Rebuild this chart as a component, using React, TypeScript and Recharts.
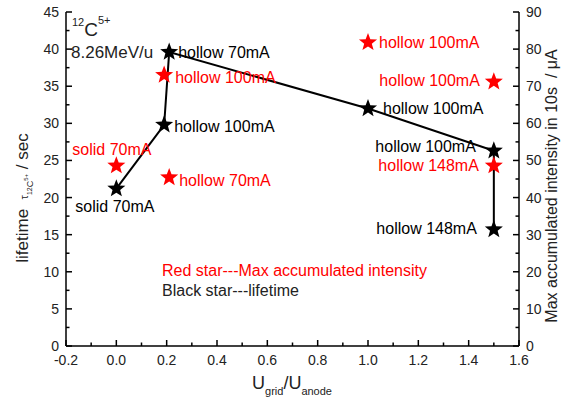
import React from "react";
import {
  ComposedChart,
  Scatter,
  XAxis,
  YAxis,
  Customized,
} from "recharts";

// ---------------------------------------------------------------------------
// Data
// ---------------------------------------------------------------------------

const gridRatio = [0, 0.19, 0.21, 1.0, 1.5, 1.5];
const lifetime = [21.2, 29.8, 39.6, 32.0, 26.3, 15.7];
const lifetimeLabels = [
  "solid 70mA",
  "hollow 100mA",
  "hollow 70mA",
  "hollow 100mA",
  "hollow 100mA",
  "hollow 148mA",
];

const intensityRatio = [0, 0.19, 0.21, 1.0, 1.5, 1.5];
const intensity = [48.6, 73.0, 45.4, 81.8, 71.2, 48.6];
const intensityLabels = [
  "solid 70mA",
  "hollow 100mA",
  "hollow 70mA",
  "hollow 100mA",
  "hollow 100mA",
  "hollow 148mA",
];

const xTicks = [
  -0.2, -0.1, 0, 0.1, 0.2, 0.3, 0.4, 0.5, 0.6, 0.7, 0.8, 0.9, 1.0, 1.1, 1.2,
  1.3, 1.4, 1.5, 1.6,
];
const leftTicks = [
  0, 2.5, 5, 7.5, 10, 12.5, 15, 17.5, 20, 22.5, 25, 27.5, 30, 32.5, 35, 37.5,
  40, 42.5, 45,
];
const rightTicks = [
  0, 5, 10, 15, 20, 25, 30, 35, 40, 45, 50, 55, 60, 65, 70, 75, 80, 85, 90,
];

// label placement relative to each star (pixels)
const lifetimeLabelPos = [
  { dx: -41, dy: 18, anchor: "start" },
  { dx: 10, dy: 1, anchor: "start" },
  { dx: 9, dy: 0, anchor: "start" },
  { dx: 15, dy: 0, anchor: "start" },
  { dx: -18, dy: -5, anchor: "end" },
  { dx: -17, dy: -1, anchor: "end" },
];
const intensityLabelPos = [
  { dx: -44, dy: -16, anchor: "start" },
  { dx: 11, dy: 2, anchor: "start" },
  { dx: 10, dy: 3, anchor: "start" },
  { dx: 11, dy: 0, anchor: "start" },
  { dx: -14, dy: -2, anchor: "end" },
  { dx: -15, dy: 0, anchor: "end" },
];

const lifetimeData = gridRatio.map((x, i) => ({
  x,
  y: lifetime[i],
  label: lifetimeLabels[i],
  i,
}));
const intensityData = intensityRatio.map((x, i) => ({
  x,
  y: intensity[i],
  label: intensityLabels[i],
  i,
}));

// ---------------------------------------------------------------------------
// Styling
// ---------------------------------------------------------------------------

const FONT = '"Liberation Sans", Arial, sans-serif';
const RED = "#ff0000";
const BLACK = "#000000";
const AXIS_W = 1.5;
const MAJOR = 6;
const MINOR = 3.5;

function starPoints(cx: number, cy: number, R: number, r: number) {
  const pts: string[] = [];
  for (let k = 0; k < 10; k++) {
    const rad = k % 2 === 0 ? R : r;
    const a = -Math.PI / 2 + (k * Math.PI) / 5;
    pts.push(`${cx + rad * Math.cos(a)},${cy + rad * Math.sin(a)}`);
  }
  return pts.join(" ");
}

function makeStar(color: string, pos: typeof lifetimeLabelPos) {
  return function StarShape(props: any) {
    const { cx, cy, payload } = props;
    if (cx == null || cy == null) return null;
    const p = pos[payload.i];
    return (
      <g>
        <polygon points={starPoints(cx, cy, 9.5, 4)} fill={color} />
        <text
          x={cx + p.dx}
          y={cy + p.dy}
          dy="0.36em"
          textAnchor={p.anchor as any}
          fill={color}
          fontSize={16}
          fontFamily={FONT}
        >
          {payload.label}
        </text>
      </g>
    );
  };
}

const BlackStar = makeStar(BLACK, lifetimeLabelPos);
const RedStar = makeStar(RED, intensityLabelPos);

// ---------------------------------------------------------------------------
// Inward ticks
// ---------------------------------------------------------------------------

function BottomTick(props: any) {
  const { x, y, payload } = props;
  const v = payload.value as number;
  const major = Math.abs(Math.round(v * 10)) % 2 === 0;
  const axisY = y - 8;
  return (
    <g>
      <line x1={x} x2={x} y1={axisY} y2={axisY - (major ? MAJOR : MINOR)} stroke={BLACK} strokeWidth={AXIS_W} />
      {major && (
        <text x={x} y={y} dy="0.8em" textAnchor="middle" fontSize={14} fontFamily={FONT} fill="#222">
          {v.toFixed(1)}
        </text>
      )}
    </g>
  );
}

function TopTick(props: any) {
  const { x, y, payload } = props;
  const v = payload.value as number;
  const major = Math.abs(Math.round(v * 10)) % 2 === 0;
  return (
    <line x1={x} x2={x} y1={y} y2={y + (major ? MAJOR : MINOR)} stroke={BLACK} strokeWidth={AXIS_W} />
  );
}

function LeftTick(props: any) {
  const { x, y, payload } = props;
  const v = payload.value as number;
  const major = v % 5 === 0;
  const axisX = x + 7;
  return (
    <g>
      <line x1={axisX} x2={axisX + (major ? MAJOR : MINOR)} y1={y} y2={y} stroke={BLACK} strokeWidth={AXIS_W} />
      {major && (
        <text x={x} y={y} dy="0.36em" textAnchor="end" fontSize={14} fontFamily={FONT} fill="#222">
          {v}
        </text>
      )}
    </g>
  );
}

function RightTick(props: any) {
  const { x, y, payload } = props;
  const v = payload.value as number;
  const major = v % 10 === 0;
  const axisX = x - 7;
  return (
    <g>
      <line x1={axisX} x2={axisX - (major ? MAJOR : MINOR)} y1={y} y2={y} stroke={BLACK} strokeWidth={AXIS_W} />
      {major && (
        <text x={x} y={y} dy="0.36em" textAnchor="start" fontSize={14} fontFamily={FONT} fill="#222">
          {v}
        </text>
      )}
    </g>
  );
}

// ---------------------------------------------------------------------------
// Titles and annotations
// ---------------------------------------------------------------------------

function Annotations() {
  return (
    <g fontFamily={FONT}>
      {/* ion */}
      <text x={72} y={36} fill="#222">
        <tspan fontSize={11} dy={-10}>12</tspan>
        <tspan fontSize={19} dy={10}>C</tspan>
        <tspan fontSize={11} dy={-12}>5+</tspan>
      </text>
      <text x={71} y={58} fontSize={17} fill="#222">8.26MeV/u</text>

      {/* legend text */}
      <text x={162} y={276} fontSize={16} fill={RED}>
        Red star---Max accumulated intensity
      </text>
      <text x={162} y={296} fontSize={16} fill="#222">
        Black star---lifetime
      </text>

      {/* x title */}
      <text x={292} y={389} textAnchor="middle" fill="#222">
        <tspan fontSize={18}>U</tspan>
        <tspan fontSize={11} dy={6}>grid</tspan>
        <tspan fontSize={18} dy={-6}>/U</tspan>
        <tspan fontSize={11} dy={6}>anode</tspan>
      </text>

      {/* left title */}
      <text transform="translate(28,198) rotate(-90)" textAnchor="middle" fill="#222">
        <tspan fontSize={17}>{"lifetime\u00a0\u00a0"}</tspan>
        <tspan fontSize={11}>τ</tspan>
        <tspan fontSize={7} dy={4}>12</tspan>
        <tspan fontSize={9} dy={1}>C</tspan>
        <tspan fontSize={6} dy={-5}>5+</tspan>
        <tspan fontSize={17} dy={0}>{"\u00a0/ sec"}</tspan>
      </text>

      {/* right title */}
      <text transform="translate(557,186) rotate(-90)" textAnchor="middle" fontSize={16} fill="#222">
        {"Max accumulated intensity in 10s\u00a0\u00a0/ μA"}
      </text>
    </g>
  );
}

// ---------------------------------------------------------------------------
// Chart
// ---------------------------------------------------------------------------

export default function App() {
  return (
    <div style={{ position: "absolute", left: 0, top: 0, background: "#fff" }}>
      <ComposedChart
        width={569}
        height={400}
        margin={{ top: 12, right: 16, bottom: 24, left: 20 }}
      >
        <XAxis
          xAxisId="bottom"
          dataKey="x"
          type="number"
          domain={[-0.2, 1.6]}
          ticks={xTicks}
          interval={0}
          allowDataOverflow
          height={30}
          tickSize={0}
          tickMargin={8}
          tickLine={false}
          axisLine={{ stroke: BLACK, strokeWidth: AXIS_W }}
          tick={(p: any) => <BottomTick {...p} />}
        />
        <XAxis
          xAxisId="top"
          orientation="top"
          dataKey="x"
          type="number"
          domain={[-0.2, 1.6]}
          ticks={xTicks}
          interval={0}
          height={0}
          tickSize={0}
          tickMargin={0}
          tickLine={false}
          axisLine={{ stroke: BLACK, strokeWidth: AXIS_W }}
          tick={(p: any) => <TopTick {...p} />}
        />
        <YAxis
          yAxisId="left"
          type="number"
          dataKey="y"
          domain={[0, 45]}
          ticks={leftTicks}
          interval={0}
          width={46}
          tickSize={0}
          tickMargin={7}
          tickLine={false}
          axisLine={{ stroke: BLACK, strokeWidth: AXIS_W }}
          tick={(p: any) => <LeftTick {...p} />}
        />
        <YAxis
          yAxisId="right"
          orientation="right"
          type="number"
          dataKey="y"
          domain={[0, 90]}
          ticks={rightTicks}
          interval={0}
          width={34}
          tickSize={0}
          tickMargin={7}
          tickLine={false}
          axisLine={{ stroke: BLACK, strokeWidth: AXIS_W }}
          tick={(p: any) => <RightTick {...p} />}
        />
        <Scatter
          data={lifetimeData}
          xAxisId="bottom"
          yAxisId="left"
          dataKey="y"
          fill={BLACK}
          line={{ stroke: BLACK, strokeWidth: 2 }}
          lineType="joint"
          shape={BlackStar}
          isAnimationActive={false}
        />
        <Scatter
          data={intensityData}
          xAxisId="bottom"
          yAxisId="right"
          dataKey="y"
          fill={RED}
          shape={RedStar}
          isAnimationActive={false}
        />
        <Customized component={<Annotations />} />
      </ComposedChart>
    </div>
  );
}
